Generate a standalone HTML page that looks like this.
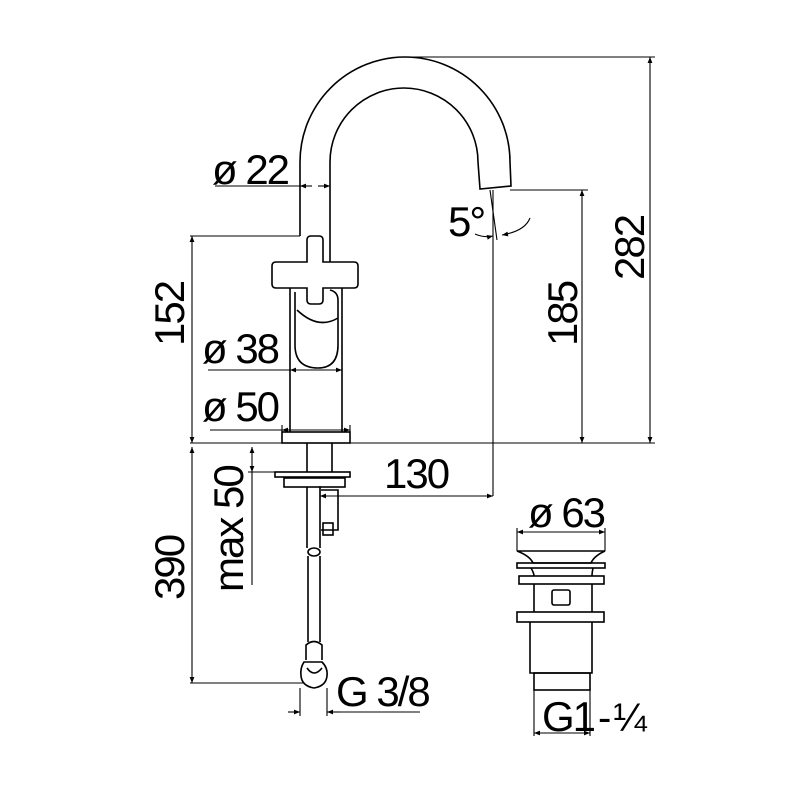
<!DOCTYPE html>
<html><head><style>html,body{margin:0;padding:0;background:#fff}svg{display:block}text{font-family:"Liberation Sans",sans-serif;fill:#000}</style></head>
<body>
<svg width="800" height="800" viewBox="0 0 800 800" xmlns="http://www.w3.org/2000/svg">
<defs>
<marker id="a" viewBox="0 0 10 10" refX="10" refY="5" markerWidth="8" markerHeight="6" orient="auto-start-reverse" markerUnits="userSpaceOnUse"><path d="M0,1 L10,5 L0,9 z" fill="#000"/></marker>
</defs>
<g fill="none" stroke="#000" stroke-width="1.6">
<path d="M300,236 L300,162 A105,105 0 0 1 510,162 L511,186 L480,189 L478,162 A74,74 0 0 0 330,162 L330,262"/>
<path d="M307,262 L307,240 Q307,236 311,236 L319,236 Q323,236 323,240 L323,262 L354,262 Q358,262 358,266 L358,284 Q358,288 354,288 L323,288 L323,300 Q323,304 319,304 L311,304 Q307,304 307,300 L307,288 L276,288 Q272,288 272,284 L272,266 Q272,262 276,262 Z"/>
<path d="M290,288 L290,432 M342,288 L342,432"/>
<path d="M295,292 L295,345 Q295,368 318,368 Q338,368 338,345 L338,300 Q338,292 330,290"/>
<path d="M297,310 Q318,330 338,318"/>
<rect x="282" y="432" width="68" height="11"/>
<path d="M307,443 L307,472 M332,443 L332,472"/>
<rect x="275" y="472" width="75" height="5"/>
<rect x="284" y="478" width="61" height="9"/>
<path d="M307,487 L307,548 M320,487 L320,548 M321,490 L338,490 L338,530 L321,530"/>
<rect x="323" y="523" width="10" height="12"/>
<ellipse cx="314" cy="552" rx="6" ry="4"/>
<path d="M308,556 L308,642 M320,556 L320,642"/>
<path d="M306,660 L306,645 Q314,638 322,645 L322,660"/>
<path d="M304,662 Q300,668 301,676 Q302,686 314,688 Q326,686 327,676 Q328,668 322,662 Z"/>
<path d="M307,668 Q314,678 322,668"/>
<path d="M517,551 L605,551 Q594,556 591,563 L533,563 Q530,556 517,551 Z"/>
<rect x="517" y="563" width="88" height="5"/>
<path d="M531,568 Q534,573 534,576 M593,568 Q592,573 592,576"/>
<rect x="519" y="576" width="85" height="8"/>
<path d="M534,584 L534,612 M592,584 L592,612"/>
<rect x="552" y="590" width="18" height="15" rx="2"/>
<rect x="517" y="612" width="87" height="10"/>
<path d="M530,622 L530,673 L592,673 L592,622"/>
<rect x="534" y="673" width="56" height="17"/>
</g>
<g fill="none" stroke="#000" stroke-width="1.1">
<path d="M405,57 L655,57 M510,190 L588,190 M190,443 L655,443 M190,236 L300,236"/>
<path d="M650,57 L650,443" marker-start="url(#a)" marker-end="url(#a)"/>
<path d="M582,190 L582,443" marker-start="url(#a)" marker-end="url(#a)"/>
<path d="M192,236 L192,443" marker-start="url(#a)" marker-end="url(#a)"/>
<path d="M192,447 L192,683" marker-start="url(#a)" marker-end="url(#a)"/>
<path d="M190,683 L303,683"/>
<path d="M252,447 L252,472" marker-start="url(#a)" marker-end="url(#a)"/>
<path d="M252,472 L252,585 M248,472 L280,472"/>
<path d="M215,186 L300,186"/><path d="M300,186 L312,186" marker-start="url(#a)"/><path d="M318,186 L330,186" marker-end="url(#a)"/>
<path d="M208,370 L290,370"/><path d="M290,370 L342,370" marker-start="url(#a)" marker-end="url(#a)"/>
<path d="M210,430 L282,430"/><path d="M282,430 L350,430" marker-start="url(#a)" marker-end="url(#a)"/>
<path d="M282,425 L282,432 M350,425 L350,432"/>
<path d="M493,190 L493,496"/>
<path d="M320,496 L493,496" marker-start="url(#a)" marker-end="url(#a)"/>
<path d="M320,486 L320,500"/>
<path d="M475,234 Q484,238 493,236" marker-end="url(#a)"/>
<path d="M530,218 Q525,231 502,235" marker-end="url(#a)"/>
<path d="M490,190 L497,240"/>
<path d="M300,688 L300,716 M327,688 L327,716"/>
<path d="M288,712 L300,712" marker-end="url(#a)"/><path d="M340,712 L327,712" marker-end="url(#a)"/><path d="M340,712 L420,712"/>
<path d="M517,528 L517,551 M605,528 L605,551"/>
<path d="M517,532 L605,532" marker-start="url(#a)" marker-end="url(#a)"/>
<path d="M534,690 L534,736 M590,690 L590,736"/>
<path d="M534,733 L590,733" marker-start="url(#a)" marker-end="url(#a)"/>
</g>
<g font-size="42" letter-spacing="-2">
<text x="212" y="184">ø 22</text>
<text x="202" y="363">ø 38</text>
<text x="202" y="421">ø 50</text>
<text x="384" y="488">130</text>
<text x="448" y="236">5°</text>
<text x="528" y="527">ø 63</text>
<text x="336" y="706">G 3/8</text>
<text x="542" y="731">G1</text>
<text x="598" y="731" font-size="40" letter-spacing="2">-¼</text>
<text transform="translate(184,346) rotate(-90)">152</text>
<text transform="translate(184,600) rotate(-90)">390</text>
<text transform="translate(243,592) rotate(-90)">max 50</text>
<text transform="translate(577,346) rotate(-90)">185</text>
<text transform="translate(644,280) rotate(-90)">282</text>
</g>
</svg>
</body></html>
